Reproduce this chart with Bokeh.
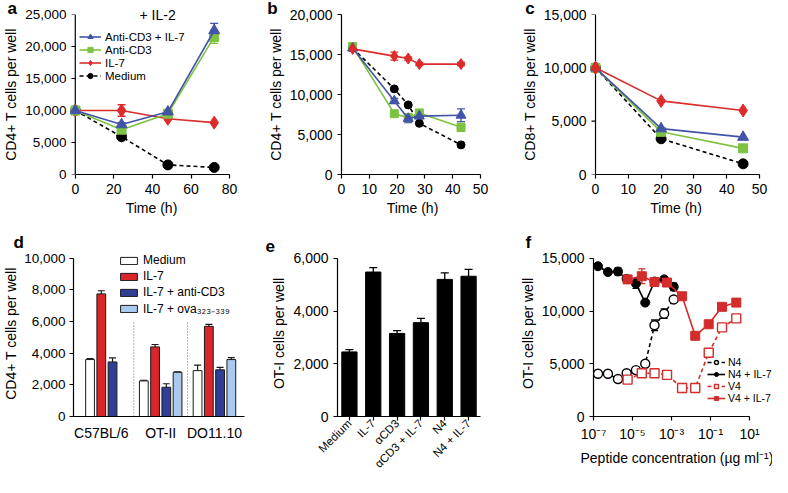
import math
from bokeh.plotting import figure
from bokeh.layouts import row, column
from bokeh.models import (ColumnDataSource, Whisker, TeeHead, Legend, LegendItem, Title,
                          FixedTicker, NumeralTickFormatter, CustomJSTickFormatter, FactorRange)
from bokeh.embed import file_html
from bokeh.resources import INLINE

FONT = "Liberation Sans"
BLUE = "#4254a8"
GREEN = "#7ec242"
RED = "#dc2b2b"
BLACK = "#000000"

# ---------------- data ----------------
# panel a
a_time = [0, 24, 48, 72]
a_cd3_il7 = [10000, 7800, 9800, 22500]
a_cd3_il7_err = [0, 300, 0, 1100]
a_cd3 = [10000, 7000, 9500, 21500]
a_cd3_err = [0, 400, 300, 1000]
a_il7 = [10000, 10000, 8700, 8100]
a_il7_err = [0, 900, 0, 0]
a_medium = [10000, 5900, 1500, 1100]
a_medium_err = [0, 0, 0, 0]
a_xticks = [0, 20, 40, 60, 80]
a_yticks = [0, 5000, 10000, 15000, 20000, 25000]

# panel b
b_time = [4, 19, 24, 28, 43]
b_cd3_il7 = [15800, 9200, 7000, 7300, 7400]
b_cd3_il7_err = [300, 300, 500, 300, 800]
b_cd3 = [16000, 7600, 7100, 7700, 5900]
b_cd3_err = [300, 200, 400, 300, 500]
b_il7 = [15700, 14800, 14500, 13800, 13800]
b_il7_err = [200, 500, 200, 200, 200]
b_medium = [15800, 10700, 8700, 6400, 3700]
b_medium_err = [0, 0, 0, 0, 0]
b_xticks = [0, 10, 20, 30, 40, 50]
b_yticks = [0, 5000, 10000, 15000, 20000]

# panel c
c_time = [0, 20, 45]
c_cd3_il7 = [10000, 4300, 3500]
c_cd3 = [10000, 4000, 2450]
c_il7 = [10000, 6900, 6000]
c_medium = [10000, 3350, 1000]
c_xticks = [0, 10, 20, 30, 40, 50]
c_yticks = [0, 5000, 10000, 15000]

# panel d
d_groups = ["C57BL/6", "OT-II", "DO11.10"]
d_series = ["Medium", "IL-7", "IL-7 + anti-CD3", "IL-7 + ova\u2083\u2082\u2083\u208b\u2083\u2083\u2089"]
d_medium = [3600, 2250, 2900]
d_medium_err = [60, 40, 350]
d_il7 = [7750, 4400, 5700]
d_il7_err = [200, 150, 130]
d_il7_cd3 = [3450, 1850, 2950]
d_il7_cd3_err = [250, 220, 150]
d_il7_ova = [float("nan"), 2800, 3600]
d_il7_ova_err = [float("nan"), 30, 120]
d_yticks = [0, 2000, 4000, 6000, 8000, 10000]

# panel e
e_conditions = ["Medium", "IL-7", "\u03b1CD3", "\u03b1CD3 + IL-7", "N4", "N4 + IL-7"]
e_values = [2450, 5480, 3150, 3560, 5200, 5320]
e_err = [90, 170, 110, 160, 250, 260]
e_yticks = [0, 2000, 4000, 6000]

# panel f
f_n4_conc = [1.7e-7, 5.5e-7, 1.8e-6, 5e-6, 1.5e-5, 4.5e-5, 1.35e-4, 4.2e-4, 1.3e-3]
f_n4 = [4050, 4050, 3550, 4100, 4400, 5000, 8650, 9750, 11100]
f_n4_err = [100, 100, 100, 150, 250, 150, 500, 450, 250]
f_n4_il7 = [14250, 13700, 13750, 13050, 12600, 10800, 12800, 13000, 12300]
f_n4_il7_err = [150, 150, 350, 200, 450, 200, 200, 150, 350]
f_v4_conc = [5.6e-6, 3e-5, 1.35e-4, 5.9e-4, 3.5e-3, 1.65e-2, 8.1e-2, 0.39, 2.1]
f_v4 = [3500, 4100, 4100, 3950, 2700, 2700, 6050, 8450, 9300]
f_v4_err = [150, 150, 100, 100, 100, 100, 150, 200, 150]
f_v4_il7 = [13000, 13300, 12750, 12700, 11400, 7650, 8750, 10400, 10800]
f_v4_il7_err = [200, 700, 200, 200, 150, 300, 300, 200, 150]
f_xticks = [1e-7, 1e-5, 1e-3, 1e-1, 1e1]
f_yticks = [0, 5000, 10000, 15000]


# ---------------- helpers ----------------
class Frame:
    """Maps page-pixel positions (of the reference) to data coordinates."""
    def __init__(self, fx, fy, fw, fh, xd, xp, yd, yp, pads, xlog=False):
        self.xlog = xlog
        t = (lambda v: math.log10(v)) if xlog else (lambda v: v)
        l, r, tp, b = pads
        self.sx = (xp[1] - xp[0]) / (t(xd[1]) - t(xd[0]))
        self.sy = (yp[0] - yp[1]) / (yd[1] - yd[0])
        self.x0, self.px0 = t(xd[0]), xp[0]
        self.y0, self.py0 = yd[0], yp[0]
        fl, fr, ft, fb = xp[0] - l, xp[1] + r, yp[1] - tp, yp[0] + b
        self.left, self.top = fl, ft
        self.x_range = (self.xd(fl), self.xd(fr))
        self.y_range = (self.yd(fb), self.yd(ft))
        self.w, self.h = fw, fh
        self.border_top = int(round(ft - fy))
        self.borders = dict(min_border_left=int(round(fl - fx)),
                            min_border_right=int(round(fx + fw - fr)),
                            min_border_top=self.border_top,
                            min_border_bottom=int(round(fy + fh - fb)))

    def xd(self, px):
        v = self.x0 + (px - self.px0) / self.sx
        return 10 ** v if self.xlog else v

    def yd(self, py):
        return self.y0 + (self.py0 - py) / self.sy


def make_fig(fr, x_range=None, ytick_size="14px", **kw):
    p = figure(width=fr.w, height=fr.h, title=None,
               x_range=x_range if x_range is not None else fr.x_range,
               y_range=fr.y_range, output_backend="svg", toolbar_location=None,
               **fr.borders, **kw)
    p.grid.visible = False
    p.outline_line_color = None
    p.background_fill_color = "white"
    p.border_fill_color = "white"
    for ax in p.axis:
        ax.axis_line_color = "black"
        ax.axis_line_width = 1.2
        ax.major_tick_line_color = "black"
        ax.major_tick_line_width = 1.2
        ax.major_tick_in = 0
        ax.major_tick_out = 4
        ax.minor_tick_line_color = None
        ax.major_label_text_font = FONT
        ax.major_label_text_font_size = "14px"
        ax.major_label_text_color = "black"
        ax.axis_label_text_font = FONT
        ax.axis_label_text_font_size = "14px"
        ax.axis_label_text_font_style = "normal"
        ax.axis_label_text_color = "black"
    p.yaxis.major_label_text_font_size = ytick_size
    p.yaxis.major_label_standoff = 5
    p.yaxis.axis_label_standoff = 3
    p.xaxis.major_label_standoff = 5
    p.xaxis.axis_label_standoff = 3
    p.yaxis.formatter = NumeralTickFormatter(format="0,0")
    return p


def title(p, s, size_px, text_height, reserved, page_x, frame_left, bold=False, place="above",
          valign="bottom"):
    """Title in a side panel; `reserved` is the room (px) it takes in that panel."""
    p.add_layout(Title(text=s, align="left", offset=page_x - frame_left,
                       standoff=reserved - 2 - text_height, vertical_align=valign,
                       text_font=FONT, text_font_size=size_px,
                       text_font_style="bold" if bold else "normal", text_color="black"), place)


def manual_yaxis(p, fr, x_at, yticks, px_axis):
    """Y axis drawn at data x = x_at (so markers there are not cut)."""
    p.yaxis.axis_line_color = None
    p.yaxis.major_tick_line_color = None
    p.yaxis.major_tick_out = 0
    p.yaxis.major_label_standoff = 4
    n = len(yticks)
    p.segment(x0=[x_at], y0=[yticks[0]], x1=[x_at], y1=[yticks[-1]], line_color="black", line_width=1.2)
    p.segment(x0=[fr.xd(px_axis - 4)] * n, y0=yticks, x1=[x_at] * n, y1=yticks,
              line_color="black", line_width=1.2)


def errbars(p, x, y, err, color, head=8, lw=1.3):
    xs, lo, hi = [], [], []
    for xi, yi, ei in zip(x, y, err):
        if ei and ei == ei and yi == yi:
            xs.append(xi); lo.append(yi - ei); hi.append(yi + ei)
    if not xs:
        return
    src = ColumnDataSource(dict(base=xs, lower=lo, upper=hi))
    p.add_layout(Whisker(source=src, base="base", lower="lower", upper="upper",
                         line_color=color, line_width=lw,
                         upper_head=TeeHead(size=head, line_color=color, line_width=lw),
                         lower_head=TeeHead(size=head, line_color=color, line_width=lw)))


def series(p, x, y, err, color, marker, size, dash="solid", fill=None, lw=1.6, head=8):
    ln = p.line(x, y, line_color=color, line_width=lw, line_dash=dash)
    errbars(p, x, y, err, color, head=head)
    sc = p.scatter(x, y, marker=marker, size=size, fill_color=fill if fill else color,
                   line_color=color, line_width=1.4 if fill else 1)
    return [ln, sc]


def legend(p, items, loc, gw, gh, lh, spacing, size, standoff=4):
    lg = Legend(items=[LegendItem(label=l, renderers=r) for l, r in items], location=loc,
                orientation="vertical", glyph_width=gw, glyph_height=gh, label_height=lh,
                label_standoff=standoff, spacing=spacing, padding=0, margin=0,
                label_text_font=FONT, label_text_font_size=size, label_text_color="black",
                border_line_color=None, background_fill_alpha=0)
    p.add_layout(lg)


LETTER = "17px"
LETTER_H = 19
TOP_Y = 22       # page y of the top of the upper panels' y axes
BOTTOM_PAD = 8   # room above the lower panels' y axes

# ---------------- panel a ----------------
fa = Frame(8, 8, 252, 232, (0, 80), (76, 237.3), (0, 25000), (182.5, TOP_Y), (5, 3, 0, 0))
pa = make_fig(fa, ytick_size="13.5px")
pa.xaxis.ticker = FixedTicker(ticks=a_xticks, minor_ticks=[])
pa.yaxis.ticker = FixedTicker(ticks=a_yticks, minor_ticks=[])
pa.xaxis.bounds = (a_xticks[0], a_xticks[-1])
manual_yaxis(pa, fa, a_xticks[0], a_yticks, 76)
pa.xaxis.axis_label = "Time (h)"
pa.yaxis.axis_label = "CD4+ T cells per well"
ra_med = series(pa, a_time, a_medium, a_medium_err, BLACK, "circle", 10, dash="4 3")
ra_il7 = series(pa, a_time, a_il7, a_il7_err, RED, "diamond", 13)
ra_cd3 = series(pa, a_time, a_cd3, a_cd3_err, GREEN, "square", 9)
ra_both = series(pa, a_time, a_cd3_il7, a_cd3_il7_err, BLUE, "triangle", 11)
legend(pa, [("Anti-CD3 + IL-7", ra_both), ("Anti-CD3", ra_cd3), ("IL-7", ra_il7), ("Medium", ra_med)],
       (9, 92), 22, 13, 13, 0, "11.5px")
title(pa, "+ IL-2", "14px", 15.6, 0, 140, fa.left)
title(pa, "a", LETTER, LETTER_H, fa.border_top, 8, fa.left, bold=True)

# ---------------- panel b ----------------
fb = Frame(260, 8, 260, 232, (0, 50), (349.3, 487.7), (0, 20000), (182.5, TOP_Y), (0, 3, 0, 0))
pb = make_fig(fb)
pb.xaxis.ticker = FixedTicker(ticks=b_xticks, minor_ticks=[])
pb.yaxis.ticker = FixedTicker(ticks=b_yticks, minor_ticks=[])
pb.xaxis.bounds = (b_xticks[0], b_xticks[-1])
pb.yaxis.bounds = (b_yticks[0], b_yticks[-1])
pb.xaxis.axis_label = "Time (h)"
pb.yaxis.axis_label = "CD4+ T cells per well"
series(pb, b_time, b_medium, b_medium_err, BLACK, "circle", 8, dash="4 3")
series(pb, b_time, b_cd3, b_cd3_err, GREEN, "square", 8)
series(pb, b_time, b_cd3_il7, b_cd3_il7_err, BLUE, "triangle", 10)
series(pb, b_time, b_il7, b_il7_err, RED, "diamond", 11)
title(pb, "b", LETTER, LETTER_H, fb.border_top, 275, fb.left, bold=True)

# ---------------- panel c ----------------
fc = Frame(520, 8, 260, 232, (0, 50), (603.3, 766.7), (0, 15000), (182.5, TOP_Y), (5, 2, 0, 0))
pc = make_fig(fc)
pc.xaxis.ticker = FixedTicker(ticks=c_xticks, minor_ticks=[])
pc.yaxis.ticker = FixedTicker(ticks=c_yticks, minor_ticks=[])
pc.xaxis.bounds = (c_xticks[0], c_xticks[-1])
manual_yaxis(pc, fc, c_xticks[0], c_yticks, 603.3)
pc.xaxis.axis_label = "Time (h)"
pc.yaxis.axis_label = "CD8+ T cells per well"
nz = [0] * len(c_time)
series(pc, c_time, c_medium, nz, BLACK, "circle", 10, dash="4 3")
series(pc, c_time, c_cd3, nz, GREEN, "square", 9)
series(pc, c_time, c_cd3_il7, nz, BLUE, "triangle", 11)
series(pc, c_time, c_il7, nz, RED, "diamond", 13)
title(pc, "c", LETTER, LETTER_H, fc.border_top, 533, fc.left, bold=True)

# ---------------- panel d ----------------
D_FIRST, D_STEP, D_XMAX, D_BAR_W, D_SEP_TOP = 1.47, 4.78, 15.2, 0.78, 6000
fd = Frame(8, 240, 252, 245, (0, D_XMAX), (68, 252), (0, 10000), (428, 266), (0, 0, BOTTOM_PAD, 0))
pd_ = make_fig(fd, ytick_size="13.5px")
pd_.yaxis.ticker = FixedTicker(ticks=d_yticks, minor_ticks=[])
pd_.yaxis.bounds = (d_yticks[0], d_yticks[-1])
pd_.yaxis.axis_label = "CD4+ T cells per well"
pd_.yaxis.major_label_standoff = 4
pd_.yaxis.axis_label_standoff = 2
d_vals = [d_medium, d_il7, d_il7_cd3, d_il7_ova]
d_errs = [d_medium_err, d_il7_err, d_il7_cd3_err, d_il7_ova_err]
d_colors = ["white", "#d8262b", "#2f3f98", "#a9c9ee"]
d_present = [[] for _ in d_groups]
d_items = []
for s, (vals, errs) in enumerate(zip(d_vals, d_errs)):
    xs, tops, es = [], [], []
    for g, v in enumerate(vals):
        if v == v:
            xpos = D_FIRST + g * D_STEP + s
            xs.append(xpos); tops.append(v); es.append(errs[g])
            d_present[g].append(xpos)
    errbars(pd_, xs, tops, es, "#1a1a1a", head=7, lw=1.2)
    r = pd_.vbar(x=xs, top=tops, bottom=0, width=D_BAR_W, fill_color=d_colors[s],
                 line_color="#1a1a1a", line_width=1)
    d_items.append((d_series[s], [r]))
for g in range(1, len(d_groups)):
    sx = D_FIRST + g * D_STEP - (D_STEP - 3) / 2
    pd_.segment(x0=[sx], y0=[0], x1=[sx], y1=[D_SEP_TOP], line_color="#666666",
                line_width=1, line_dash="1 2")
d_centers = [sum(v) / len(v) for v in d_present]
pd_.xaxis.ticker = FixedTicker(ticks=d_centers, minor_ticks=[])
pd_.xaxis.major_tick_out = 0
pd_.xaxis.major_label_standoff = 8
pd_.xaxis.formatter = CustomJSTickFormatter(args=dict(labels=d_groups, centers=d_centers), code="""
let best = 0;
for (let i = 0; i < centers.length; i++) {
  if (Math.abs(centers[i] - tick) < Math.abs(centers[best] - tick)) { best = i; }
}
return labels[best];
""")
legend(pd_, d_items, (45, 99), 21, 9, 16, 0, "12px")
title(pd_, "d", LETTER, LETTER_H, fd.border_top, 8, fd.left, bold=True)

# ---------------- panel e ----------------
fe = Frame(260, 240, 260, 245, (0, len(e_conditions)), (345, 488), (0, 6000), (428, 266),
           (0, 0, BOTTOM_PAD, 0))
pe = make_fig(fe, x_range=FactorRange(factors=e_conditions, range_padding=0))
pe.yaxis.ticker = FixedTicker(ticks=e_yticks, minor_ticks=[])
pe.yaxis.bounds = (e_yticks[0], e_yticks[-1])
pe.yaxis.axis_label = "OT-I cells per well"
pe.xaxis.major_label_orientation = math.pi / 4
pe.xaxis.major_label_text_font_size = "11.5px"
pe.xaxis.major_label_standoff = 1
errbars(pe, e_conditions, e_values, e_err, BLACK, head=8, lw=1.3)
pe.vbar(x=e_conditions, top=e_values, width=0.64, fill_color=BLACK, line_color=BLACK)
title(pe, "e", LETTER, LETTER_H, fe.border_top, 273, fe.left, bold=True)

# ---------------- panel f ----------------
FRED = "#d42b2b"
ff = Frame(520, 240, 260, 245, (1e-7, 10), (601, 757), (0, 15000), (428, 266),
           (0, 23, BOTTOM_PAD, 0), xlog=True)
pf = make_fig(ff, x_axis_type="log")
pf.xaxis.ticker = FixedTicker(ticks=f_xticks, minor_ticks=[])
pf.yaxis.ticker = FixedTicker(ticks=f_yticks, minor_ticks=[])
pf.xaxis.bounds = (f_xticks[0], f_xticks[-1])
pf.yaxis.bounds = (f_yticks[0], f_yticks[-1])
pf.yaxis.axis_label = "OT-I cells per well"
pf.xaxis.formatter = CustomJSTickFormatter(code="""
const sup = {"-": "\u207b", "0": "\u2070", "1": "\u00b9", "2": "\u00b2", "3": "\u00b3",
             "4": "\u2074", "5": "\u2075", "6": "\u2076", "7": "\u2077", "8": "\u2078", "9": "\u2079"};
const e = Math.round(Math.log10(tick));
let s = "";
for (const c of String(e)) { s += sup[c]; }
return "10" + s;
""")
rf_n4 = series(pf, f_n4_conc, f_n4, f_n4_err, BLACK, "circle", 9, dash="4 3", fill="white", head=7)
rf_v4 = series(pf, f_v4_conc, f_v4, f_v4_err, FRED, "square", 9, dash="4 3", fill="white", head=7)
rf_n4i = series(pf, f_n4_conc, f_n4_il7, f_n4_il7_err, BLACK, "circle", 9, head=7)
rf_v4i = series(pf, f_v4_conc, f_v4_il7, f_v4_il7_err, FRED, "square", 9, head=7)
legend(pf, [("N4", rf_n4), ("N4 + IL-7", rf_n4i), ("V4", rf_v4), ("V4 + IL-7", rf_v4i)],
       (114, 12), 18, 10, 10, 0, "10.5px", standoff=3)
title(pf, "Peptide concentration (\u00b5g ml\u207b\u00b9)", "14px", 15.6, 28, 588, ff.left,
      place="below", valign="top")
title(pf, "f", LETTER, LETTER_H, ff.border_top, 533, ff.left, bold=True)

layout = column(row(pa, pb, pc), row(pd_, pe, pf))
open("out.html", "w").write(file_html(layout, INLINE, title="panels"))
